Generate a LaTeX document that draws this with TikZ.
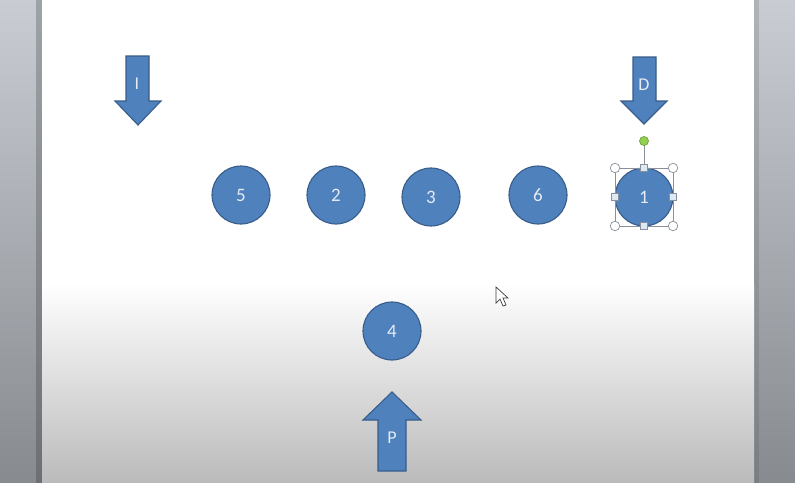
\documentclass[tikz,border=0pt]{standalone}
\usepackage{fontspec}
\setmainfont{Carlito}
\begin{document}
\begin{tikzpicture}[x=1pt,y=-1pt,
  shapefill/.style={fill=officeblue, draw=officeborder, line width=1.1pt},
  player/.style={circle, shapefill, minimum size=58pt, inner sep=0pt,
    text=labeltext, font=\fontsize{19}{19}\selectfont},
  arrowlabel/.style={text=labeltext, font=\fontsize{18}{18}\selectfont, inner sep=0pt},
  cornerhandle/.style={circle, draw=handlegray, fill=white, line width=0.7pt, minimum size=9.5pt, inner sep=0pt},
  sidehandle/.style={rectangle, draw=handlegray, fill=handlefill, line width=0.7pt, minimum size=7pt, inner sep=0pt},
  rothandle/.style={circle, draw=rotborder, fill=rotgreen, line width=0.7pt, minimum size=9pt, inner sep=0pt}
]
\definecolor{officeblue}{HTML}{4F81BD}
\definecolor{officeborder}{HTML}{385D8A}
\definecolor{labeltext}{HTML}{E4EBF4}
\definecolor{handlegray}{HTML}{8A9099}
\definecolor{handlefill}{HTML}{DDE9F3}
\definecolor{rotgreen}{HTML}{92D050}
\definecolor{rotborder}{HTML}{6E9E3A}
\definecolor{paneltop}{HTML}{C9CDD3}
\definecolor{panelbot}{HTML}{878B90}
\definecolor{striptop}{HTML}{9EA3A8}
\definecolor{stripbot}{HTML}{6C7075}
\definecolor{rstriptop}{HTML}{B0B4B9}
\definecolor{rstripbot}{HTML}{7A7E83}
\definecolor{slidebot}{HTML}{BBBBBB}
\useasboundingbox (0,0) rectangle (795,482);
% side panels
\shade[top color=paneltop, bottom color=panelbot] (0,0) rectangle (36,482);
\shade[top color=striptop, bottom color=stripbot] (36,0) rectangle (42,482);
\shade[top color=rstriptop, bottom color=rstripbot] (754,0) rectangle (759,482);
\shade[top color=paneltop, bottom color=panelbot] (759,0) rectangle (795,482);
% slide
\fill[white] (42,0) rectangle (754,283);
\shade[top color=white, bottom color=slidebot] (42,283) rectangle (754,482);
% arrows
\draw[shapefill, line join=miter] (126,56) -- (149,56) -- (149,101) -- (161,101) -- (138,125) -- (115,101) -- (126,101) -- cycle;
\draw[shapefill, line join=miter] (633,57) -- (656,57) -- (656,101) -- (667,101) -- (644,124) -- (621,101) -- (633,101) -- cycle;
\draw[shapefill, line join=miter] (392,392) -- (421,420) -- (406,420) -- (406,471) -- (378,471) -- (378,420) -- (363,420) -- cycle;
\node[arrowlabel] (I) at (137,84) {I};
\node[arrowlabel] (D) at (644,85) {D};
\node[arrowlabel] (P) at (392,438) {P};
% players
\node[player] (p5) at (241,195) {5};
\node[player] (p2) at (336,195) {2};
\node[player] (p3) at (431,197) {3};
\node[player] (p6) at (538,195) {6};
\node[player] (p1) at (644,197) {1};
\node[player] (p4) at (392,331) {4};
% selection frame on player 1
\coordinate (s1) at (615,168);
\coordinate (s2) at (673,226);
\draw[handlegray, line width=0.7pt] (s1) rectangle (s2);
\coordinate (rt) at (644,141);
\draw[handlegray, line width=0.7pt] (rt) -- (644,168);
\node[rothandle] (rot) at (rt) {};
\node[cornerhandle] (c1) at (615,168) {};
\node[cornerhandle] (c2) at (673,168) {};
\node[cornerhandle] (c3) at (615,226) {};
\node[cornerhandle] (c4) at (673,226) {};
\node[sidehandle] (m1) at (644,168) {};
\node[sidehandle] (m2) at (644,226) {};
\node[sidehandle] (m3) at (615,197) {};
\node[sidehandle] (m4) at (673,197) {};
% mouse pointer
\draw[fill=white, draw=black!75, line width=0.7pt, line join=miter]
  (496,287) -- (496,303) -- (500,299) -- (503,306) -- (506,305) -- (503,298) -- (508,298) -- cycle;
\end{tikzpicture}
\end{document}
